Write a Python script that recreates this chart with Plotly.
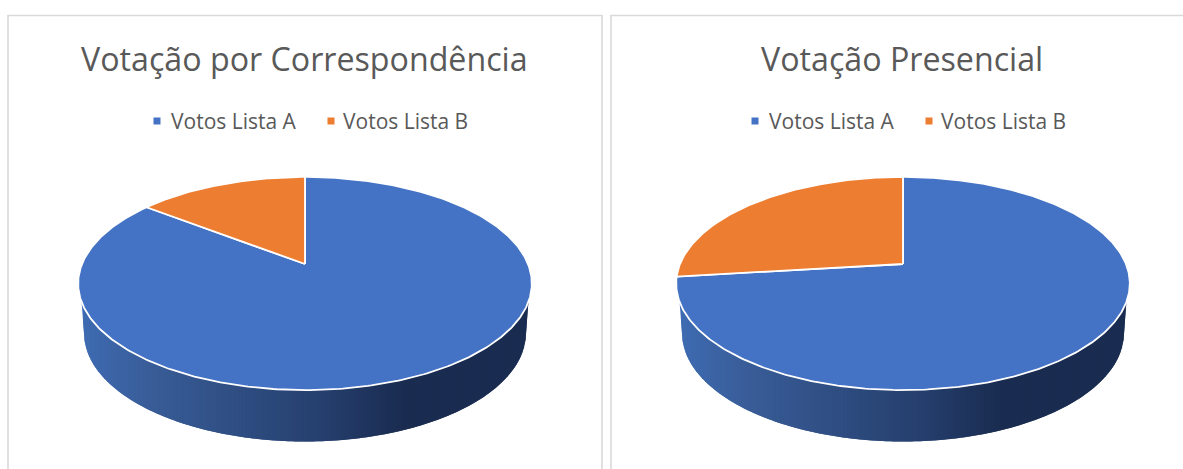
import numpy as np
import plotly.graph_objects as go

# ---- data (shares, %) ----
titles = ["Votação por Correspondência", "Votação Presencial"]
series_names = ["Votos Lista A", "Votos Lista B"]
votos_lista_a = [85.5, 73.1]
votos_lista_b = [14.5, 26.9]

# ---- style / layout ----
BLUE, ORANGE = "#4472C4", "#ED7D31"
TEXT, BORDER = "#595959", "#D9D9D9"
FONT = "Open Sans"
pie_cx = [305.0, 903.0]
APEX_Y = 264.0
A, C, K = 103.0, 0.183, 223.0
RIM_RX, RIM_CY, RIM_RY = 221.0, 333.0, 108.5
stops = [(0.0, (62, 107, 178)), (0.15, (57, 93, 152)), (0.55, (37, 62, 108)),
         (0.72, (26, 44, 80)), (1.0, (26, 44, 80))]


def top_point(cx, theta):
    """Perspective-projected pie disc; theta clockwise from 12 o'clock."""
    u, v = np.sin(theta), np.cos(theta)
    w = 1 + C * v
    return cx + K * u / w, APEX_Y - A * v / w


def grad(f):
    for (f0, c0), (f1, c1) in zip(stops, stops[1:]):
        if f <= f1:
            t = (f - f0) / (f1 - f0)
            return "rgb(%d,%d,%d)" % tuple(round(a + (b - a) * t) for a, b in zip(c0, c1))
    return "rgb(26,44,80)"


def poly(x, y, fill, line=None, width=1.0):
    return go.Scatter(x=list(x), y=list(y), mode="lines", fill="toself", fillcolor=fill,
                      line=dict(color=line or fill, width=width), hoverinfo="skip", showlegend=False)


fig = go.Figure()
annotations = []

for i, cx in enumerate(pie_cx):
    a, b = votos_lista_a[i], votos_lista_b[i]
    share_b = b / (a + b)
    split = -2 * np.pi * share_b

    # side wall: vertical colour bands, each overlapping the next so no seams show
    ths = np.linspace(np.radians(249.8), np.radians(110.2), 300)
    tx, ty = top_point(cx, ths)                       # lower arc of the disc, left to right
    phis = np.linspace(np.pi, 0, 300)
    bx = np.r_[tx[0], cx + RIM_RX * np.cos(phis), tx[-1]]
    by = np.r_[ty[0], RIM_CY + RIM_RY * np.sin(phis), ty[-1]]
    xs = np.arange(tx[0], tx[-1] + 1.5, 1.5)
    xs[-1] = tx[-1]
    upper = np.interp(xs, tx, ty)
    lower = np.interp(xs, bx, by)
    for j in range(len(xs) - 1):
        k = j + 3
        f = (xs[j] - xs[0]) / (xs[-1] - xs[0])
        fig.add_trace(poly(np.r_[xs[j:k], xs[j:k][::-1]], np.r_[upper[j:k], lower[j:k][::-1]],
                           grad(f), width=0))

    # top slices, from the values
    t_a = np.linspace(0, 2 * np.pi + split, 400)
    x_a, y_a = top_point(cx, t_a)
    fig.add_trace(poly(np.r_[cx, x_a, cx], np.r_[APEX_Y, y_a, APEX_Y], BLUE, "#FFFFFF", 1.8))
    t_b = np.linspace(split, 0, 120)
    x_b, y_b = top_point(cx, t_b)
    fig.add_trace(poly(np.r_[cx, x_b, cx], np.r_[APEX_Y, y_b, APEX_Y], ORANGE, "#FFFFFF", 1.8))

    # title
    annotations.append(dict(x=cx - 1, y=58, text=titles[i], showarrow=False,
                            xref="x", yref="y", font=dict(family=FONT, size=32.2, color=TEXT)))

    # legend
    for name, colour, mx, tx_off in zip(series_names, [BLUE, ORANGE], [cx - 148, cx + 26], [12, 9.5]):
        fig.add_trace(go.Scatter(x=[mx], y=[121], mode="markers", hoverinfo="skip", showlegend=False,
                                 marker=dict(symbol="square", size=7, color=colour)))
        annotations.append(dict(x=mx + tx_off, y=120.5, text=name, showarrow=False, xanchor="left",
                                xref="x", yref="y", font=dict(family=FONT, size=21, color=TEXT)))

shapes = [
    dict(type="path", path="M 8 480 L 8 15.5 L 602 15.5 L 602 480", xref="x", yref="y",
         line=dict(color=BORDER, width=1.6)),
    dict(type="path", path="M 611 480 L 611 15.5 L 1195 15.5", xref="x", yref="y",
         line=dict(color=BORDER, width=1.6)),
]

fig.update_layout(
    width=1183, height=469, margin=dict(l=0, r=0, t=0, b=0),
    paper_bgcolor="white", plot_bgcolor="white", showlegend=False,
    xaxis=dict(range=[0, 1183], visible=False, fixedrange=True),
    yaxis=dict(range=[469, 0], visible=False, fixedrange=True),
    annotations=annotations, shapes=shapes,
)
fig.write_html("out.html", config={"displayModeBar": False},
               post_script="document.body.style.margin='0';document.body.style.overflow='hidden';")
